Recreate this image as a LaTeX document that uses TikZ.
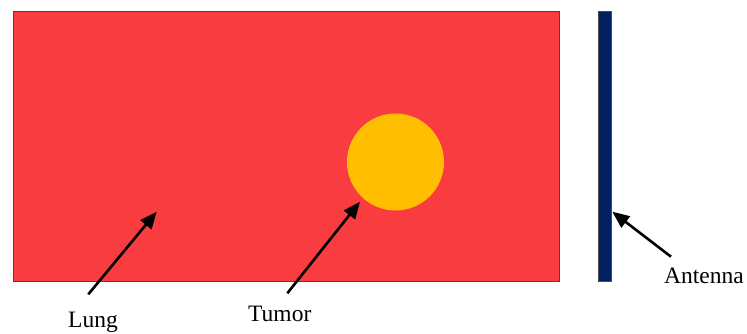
\documentclass[tikz,border=0pt]{standalone}
\usepackage{fontspec}
\setmainfont{Liberation Serif}
\usetikzlibrary{arrows.meta}
\definecolor{lungred}{HTML}{F83C3F}
\definecolor{lungedge}{HTML}{A02020}
\definecolor{tumoryellow}{HTML}{FFBF00}
\definecolor{antblue}{HTML}{002060}
\begin{document}
\begin{tikzpicture}[x=1pt,y=-1pt,
  lbl/.style={font=\fontsize{23.5}{26}\selectfont, anchor=base west, inner sep=0pt},
  pointer/.style={line width=2.6pt, -{Triangle[length=17pt,width=14pt]}, shorten >=0pt}]
\useasboundingbox (0,0) rectangle (747,333);
% lung
\node[draw=lungedge, line width=0.8pt, fill=lungred, minimum width=546pt, minimum height=270pt, inner sep=0pt, anchor=north west] (lung) at (12.5,10.5) {};
% tumor
\node[circle, fill=tumoryellow, minimum size=97pt, inner sep=0pt] (tumor) at (395.5,162) {};
% antenna
\node[draw=black!70, line width=0.5pt, fill=antblue, minimum width=12.5pt, minimum height=270pt, inner sep=0pt, anchor=north west] (antenna) at (598.3,10.5) {};
% labels
\node[lbl] (lunglbl) at (68,327.5) {Lung};
\node[lbl] (tumorlbl) at (248,321.5) {Tumor};
\node[lbl] (antlbl) at (664,283.5) {Antenna};
% arrow endpoints
\coordinate (lungtail) at (88.3,294.3);
\coordinate (lungtip) at (156.7,211.7);
\coordinate (tumortail) at (287.3,293.3);
\coordinate (tumortip) at (360,201.7);
\coordinate (anttail) at (671,256.7);
\coordinate (anttip) at (612.3,211.7);
\draw[pointer] (lungtail) -- (lungtip);
\draw[pointer] (tumortail) -- (tumortip);
\draw[pointer] (anttail) -- (anttip);
\end{tikzpicture}
\end{document}
